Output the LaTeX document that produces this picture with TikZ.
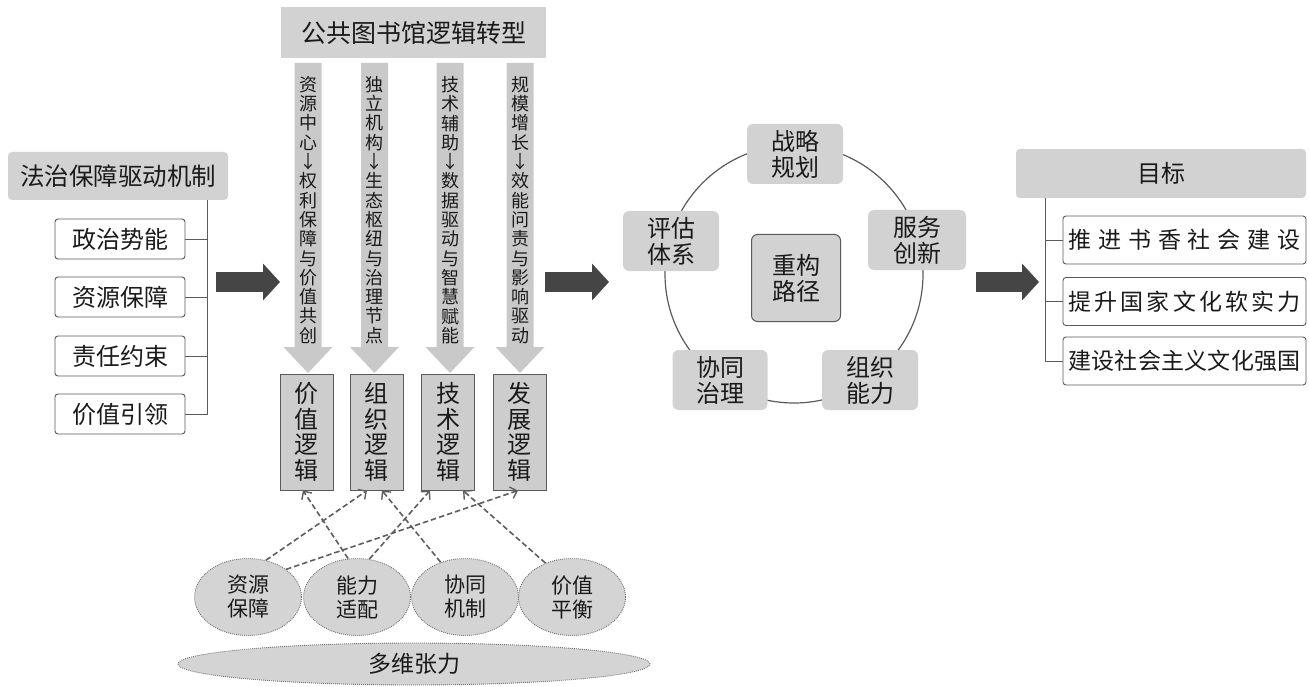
\documentclass[tikz,border=0pt]{standalone}
\usepackage{fontspec}
\setmainfont{Noto Sans CJK SC}
\usetikzlibrary{arrows.meta,shapes.geometric}
\definecolor{hdrgray}{HTML}{D2D2D2}
\definecolor{boxline}{HTML}{5A5A5A}
\definecolor{darkarrow}{HTML}{454545}
\definecolor{colarrow}{HTML}{C9C9C9}
\definecolor{ellgray}{HTML}{D4D4D4}
\definecolor{logicgray}{HTML}{CDCDCD}
\definecolor{txt}{HTML}{1A1A1A}
\definecolor{dashgray}{HTML}{6E6E6E}
\definecolor{dashline}{HTML}{5E5E5E}
\tikzset{
  hdr/.style={fill=hdrgray, rounded corners=4pt, inner sep=0pt, text=txt},
  itembox/.style={draw=boxline, line width=0.9pt, fill=white, rounded corners=3pt, inner sep=0pt, text=txt},
  logicbox/.style={draw=boxline, line width=1pt, fill=logicgray, inner sep=0pt, minimum width=53pt, minimum height=116pt, align=center, text=txt, font=\fontsize{24}{25.5}\selectfont},
  coltext/.style={inner sep=0pt, align=center, text=txt, font=\fontsize{18}{19.3}\selectfont},
  cycbox/.style={fill=hdrgray, rounded corners=6pt, inner sep=0pt, align=center, text=txt, font=\fontsize{24}{26}\selectfont, minimum width=96pt, minimum height=60pt},
  centerbox/.style={draw=boxline, line width=1pt, fill=hdrgray, rounded corners=6pt, inner sep=0pt, align=center, text=txt, font=\fontsize{24}{26}\selectfont, minimum width=89pt, minimum height=87pt},
  ell/.style={ellipse, draw=dashgray, line width=0.9pt, dash pattern=on 0.9pt off 1.1pt, fill=ellgray, inner sep=0pt, align=center, text=txt},
  fatarrow/.style={draw=darkarrow, line width=20pt, -{Triangle[length=17pt,width=36pt]}},
  dasharrow/.style={draw=dashline, line width=1.6pt, dash pattern=on 5.5pt off 3pt, -{Straight Barb[length=6pt,width=12pt,line width=1.4pt]}},
  trunk/.style={draw=boxline, line width=0.9pt},
}
\begin{document}
\begin{tikzpicture}[x=1pt,y=-1pt]
\useasboundingbox (0,0) rectangle (1309,687);

% ---------- left block ----------
\node[hdr, minimum width=220pt, minimum height=48pt, font=\fontsize{24.5}{26}\selectfont] (lh) at (118,176) {法治保障驱动机制};
\foreach \n/\y/\t in {1/239/政治势能, 2/297/资源保障, 3/356/责任约束, 4/414/价值引领}{
  \node[itembox, minimum width=130pt, minimum height=40pt, font=\fontsize{24}{26}\selectfont] (li\n) at (120,\y) {\t};
}
\coordinate (ltrunk) at (207,0);
\draw[trunk] (lh.south -| ltrunk) -- (li4.east -| ltrunk) -- (li4.east);
\foreach \n in {1,2,3}{ \draw[trunk] (li\n.east) -- (li\n.east -| ltrunk); }

% ---------- fat arrows ----------
\coordinate (a1s) at (216,282); \coordinate (a1e) at (280,282);
\coordinate (a2s) at (545,282); \coordinate (a2e) at (609,282);
\coordinate (a3s) at (976,282); \coordinate (a3e) at (1039,282);
\draw[fatarrow] (a1s) -- (a1e);
\draw[fatarrow] (a2s) -- (a2e);
\draw[fatarrow] (a3s) -- (a3e);

% ---------- top header and column arrows ----------
\node[hdr, rounded corners=0pt, minimum width=265pt, minimum height=51pt, font=\fontsize{25}{27}\selectfont] (th) at (413.5,32.5) {公共图书馆逻辑转型};
\foreach \cx in {308,374.5,450,520}{
  \fill[colarrow] (\cx-13.5,63) -- (\cx+13.5,63) -- (\cx+13.5,347) -- (\cx+24.5,347)
     -- (\cx,373) -- (\cx-24.5,347) -- (\cx-13.5,347) -- cycle;
}
\node[coltext] (t1) at (308.5,210) {资\\源\\中\\心\\↓\\权\\利\\保\\障\\与\\价\\值\\共\\创};
\node[coltext] (t2) at (374.5,210) {独\\立\\机\\构\\↓\\生\\态\\枢\\纽\\与\\治\\理\\节\\点};
\node[coltext] (t3) at (450,210) {技\\术\\辅\\助\\↓\\数\\据\\驱\\动\\与\\智\\慧\\赋\\能};
\node[coltext] (t4) at (520,210) {规\\模\\增\\长\\↓\\效\\能\\问\\责\\与\\影\\响\\驱\\动};

% ---------- logic boxes ----------
\node[logicbox] (b1) at (306.5,432) {价\\值\\逻\\辑};
\node[logicbox] (b2) at (376.5,432) {组\\织\\逻\\辑};
\node[logicbox] (b3) at (448,432) {技\\术\\逻\\辑};
\node[logicbox] (b4) at (519.5,432) {发\\展\\逻\\辑};

% ---------- ellipses ----------
\node[ell, minimum width=472pt, minimum height=42pt, font=\fontsize{23}{25}\selectfont] (big) at (414,664) {多维张力};
\foreach \n/\x/\t in {1/248/资源\\保障, 2/357/能力\\适配, 3/465/协同\\机制, 4/572/价值\\平衡}{
  \node[ell, minimum width=107pt, minimum height=77pt, font=\fontsize{21}{24}\selectfont] (e\n) at (\x,597) {\t};
}

% ---------- dashed arrows ----------
\draw[dasharrow] (e1.64) -- ([xshift=-9.5pt]b2.south);
\draw[dasharrow] (e1.36) -- ([xshift=-1.5pt]b4.south);
\draw[dasharrow] (e2.103) -- ([xshift=-3.5pt]b1.south);
\draw[dasharrow] (e2.72) -- ([xshift=-18pt]b3.south);
\draw[dasharrow] (e3.125) -- ([xshift=5.5pt]b2.south);
\draw[dasharrow] (e4.128) -- ([xshift=15pt]b3.south);

% ---------- cycle ----------
\node[circle, draw=boxline, line width=1.2pt, minimum size=258pt, inner sep=0pt] (cyc) at (794,274) {};
\node[cycbox] (c1) at (795,154) {战略\\规划};
\node[cycbox, minimum width=98pt] (c2) at (917,240) {服务\\创新};
\node[cycbox] (c3) at (870,380) {组织\\能力};
\node[cycbox, minimum width=95pt] (c4) at (720,380) {协同\\治理};
\node[cycbox] (c5) at (671,241) {评估\\体系};
\node[centerbox] (cc) at (796,278) {重构\\路径};

% ---------- right block ----------
\node[hdr, minimum width=290pt, minimum height=49pt, font=\fontsize{24}{26}\selectfont] (rh) at (1161,173.5) {目标};
\node[itembox, minimum width=243pt, minimum height=48pt, font=\fontsize{23}{25}\selectfont] (r1) at (1184.5,240)
  {\makebox[232pt][s]{推\hfil 进\hfil 书\hfil 香\hfil 社\hfil 会\hfil 建\hfil 设}};
\node[itembox, minimum width=243pt, minimum height=48pt, font=\fontsize{23}{25}\selectfont] (r2) at (1184.5,301.5)
  {\makebox[232pt][s]{提\hfil 升\hfil 国\hfil 家\hfil 文\hfil 化\hfil 软\hfil 实\hfil 力}};
\node[itembox, minimum width=243pt, minimum height=48pt, font=\fontsize{23}{25}\selectfont] (r3) at (1184.5,361)
  {\makebox[232pt][s]{建\hfil 设\hfil 社\hfil 会\hfil 主\hfil 义\hfil 文\hfil 化\hfil 强\hfil 国}};
\coordinate (rtrunk) at (1045,0);
\draw[trunk] (rh.south -| rtrunk) -- (r3.west -| rtrunk) -- (r3.west);
\foreach \n in {1,2}{ \draw[trunk] (r\n.west) -- (r\n.west -| rtrunk); }
\end{tikzpicture}
\end{document}
